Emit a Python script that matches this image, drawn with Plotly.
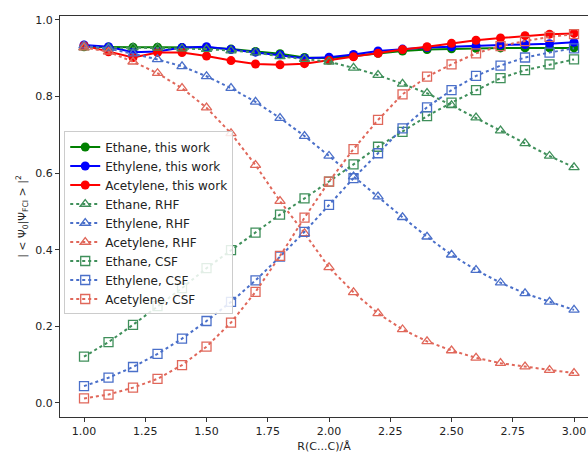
import plotly.graph_objects as go

R = [1.0, 1.1, 1.2, 1.3, 1.4, 1.5, 1.6, 1.7, 1.8, 1.9, 2.0,
     2.1, 2.2, 2.3, 2.4, 2.5, 2.6, 2.7, 2.8, 2.9, 3.0]

ethane_this = [0.930, 0.929, 0.929, 0.929, 0.928, 0.928, 0.924, 0.918, 0.912, 0.902, 0.900,
               0.906, 0.913, 0.919, 0.923, 0.925, 0.926, 0.927, 0.927, 0.927, 0.927]
ethylene_this = [0.935, 0.930, 0.916, 0.918, 0.928, 0.930, 0.923, 0.916, 0.909, 0.900, 0.903,
                 0.910, 0.919, 0.924, 0.928, 0.930, 0.933, 0.935, 0.936, 0.938, 0.942]
acetylene_this = [0.933, 0.917, 0.902, 0.915, 0.915, 0.906, 0.894, 0.885, 0.883, 0.886, 0.895,
                  0.904, 0.913, 0.923, 0.930, 0.939, 0.947, 0.953, 0.959, 0.963, 0.965]

ethane_rhf = [0.928, 0.928, 0.928, 0.927, 0.925, 0.924, 0.920, 0.915, 0.905, 0.898, 0.891,
              0.875, 0.856, 0.833, 0.809, 0.777, 0.745, 0.711, 0.678, 0.645, 0.615]
ethylene_rhf = [0.933, 0.925, 0.912, 0.897, 0.879, 0.853, 0.822, 0.786, 0.744, 0.697, 0.645,
                0.591, 0.539, 0.485, 0.434, 0.387, 0.347, 0.314, 0.286, 0.264, 0.243]
acetylene_rhf = [0.928, 0.917, 0.891, 0.861, 0.822, 0.771, 0.704, 0.621, 0.527, 0.443, 0.354,
                 0.289, 0.234, 0.192, 0.161, 0.137, 0.118, 0.104, 0.095, 0.086, 0.078]

ethane_csf = [0.121, 0.159, 0.204, 0.253, 0.300, 0.352, 0.399, 0.445, 0.492, 0.534, 0.578,
              0.623, 0.669, 0.708, 0.749, 0.784, 0.817, 0.848, 0.869, 0.884, 0.897]
ethylene_csf = [0.044, 0.066, 0.094, 0.128, 0.168, 0.214, 0.264, 0.320, 0.382, 0.447, 0.517,
                0.587, 0.652, 0.717, 0.772, 0.817, 0.854, 0.881, 0.902, 0.915, 0.926]
acetylene_csf = [0.012, 0.022, 0.040, 0.063, 0.099, 0.147, 0.210, 0.290, 0.384, 0.484, 0.578,
                 0.663, 0.739, 0.806, 0.852, 0.884, 0.913, 0.932, 0.945, 0.956, 0.963]

x_ticks = [1.00, 1.25, 1.50, 1.75, 2.00, 2.25, 2.50, 2.75, 3.00]
y_ticks = [0.0, 0.2, 0.4, 0.6, 0.8, 1.0]

FONT = "DejaVu Sans"
G_SOLID, B_SOLID, R_SOLID = "#008000", "#0000ff", "#ff0000"
G_LIGHT, B_LIGHT, R_LIGHT = "#3f8f5a", "#4a6fc9", "#e0675a"

fig = go.Figure()

solid = [("Ethane, this work", ethane_this, G_SOLID),
         ("Ethylene, this work", ethylene_this, B_SOLID),
         ("Acetylene, this work", acetylene_this, R_SOLID)]
for name, ys, c in solid:
    fig.add_trace(go.Scatter(x=R, y=ys, name=name, mode="lines+markers",
                             line=dict(color=c, width=2),
                             marker=dict(color=c, size=9, symbol="circle")))

dotted = [("Ethane, RHF", ethane_rhf, G_LIGHT, "triangle-up-open"),
          ("Ethylene, RHF", ethylene_rhf, B_LIGHT, "triangle-up-open"),
          ("Acetylene, RHF", acetylene_rhf, R_LIGHT, "triangle-up-open"),
          ("Ethane, CSF", ethane_csf, G_LIGHT, "square-open"),
          ("Ethylene, CSF", ethylene_csf, B_LIGHT, "square-open"),
          ("Acetylene, CSF", acetylene_csf, R_LIGHT, "square-open")]
for name, ys, c, sym in dotted:
    fig.add_trace(go.Scatter(x=R, y=ys, name=name, mode="lines+markers",
                             line=dict(color=c, width=2, dash="dot"),
                             marker=dict(color=c, size=9, symbol=sym,
                                         line=dict(width=1.3, color=c))))

fig.update_layout(
    width=588, height=453,
    margin=dict(l=60, r=0, t=16, b=36),
    paper_bgcolor="white", plot_bgcolor="white",
    font=dict(family=FONT, size=11, color="#222222"),
    showlegend=True,
    legend=dict(x=0.008, y=0.712, xanchor="left", yanchor="top",
                bgcolor="rgba(255,255,255,0.85)", bordercolor="#cccccc", borderwidth=1,
                font=dict(family=FONT, size=12, color="#222222"),
                itemwidth=30, tracegroupgap=0),
)
fig.update_xaxes(range=[0.902, 3.057], tickvals=x_ticks, tickformat=".2f",
                 automargin=False,
                 showline=True, linecolor="#333333", linewidth=1, mirror=True,
                 ticks="outside", ticklen=4, tickcolor="#333333",
                 showgrid=False, zeroline=False,
                 title=dict(text="R(C...C)/Å", standoff=8,
                            font=dict(family=FONT, size=11)))
fig.update_yaxes(range=[-0.0366, 1.0104], tickvals=y_ticks, tickformat=".1f",
                 automargin=False,
                 showline=True, linecolor="#333333", linewidth=1, mirror=False,
                 ticks="outside", ticklen=4, tickcolor="#333333",
                 showgrid=False, zeroline=False,
                 title=dict(text="| &lt; Ψ<sub>0</sub>|Ψ<sub>FCI</sub> &gt; |<sup>2</sup>",
                            standoff=6, font=dict(family=FONT, size=11)))

fig.write_html("out.html",
               config={"displayModeBar": False},
               post_script="document.body.style.margin='0';document.body.style.overflow='hidden';")
